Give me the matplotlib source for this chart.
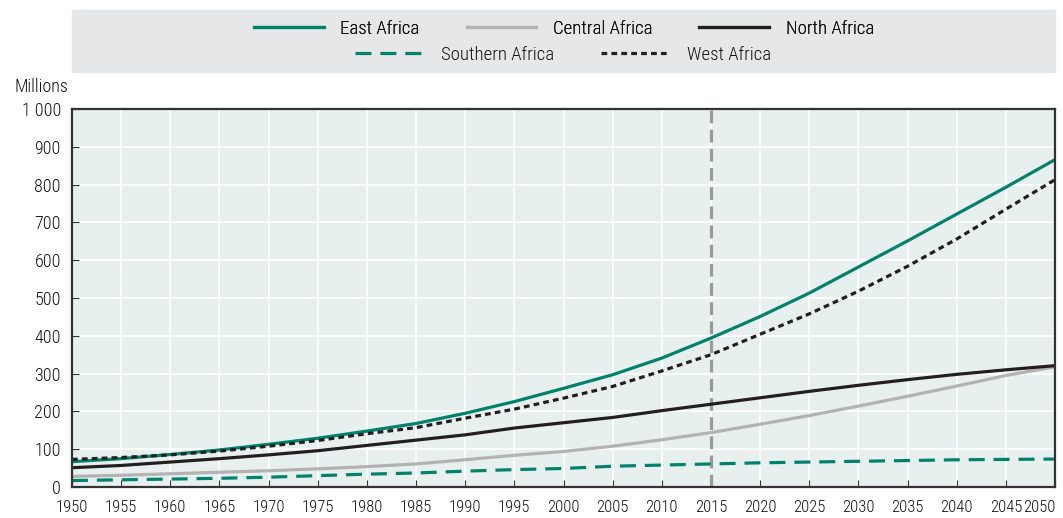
import matplotlib.pyplot as plt
from matplotlib.patches import Rectangle

plt.rcParams['font.family'] = ['Roboto Condensed', 'DejaVu Sans']
plt.rcParams['font.weight'] = 'light'

# años cada 5
anios = list(range(1950, 2051, 5))

# poblacion por region (millones)
east_africa = [67, 75, 86, 98, 113, 129, 148, 168, 195, 226, 261, 297, 341, 394, 451, 513, 582, 651, 722, 793, 866]
central_africa = [28, 31, 35, 39, 43, 48, 54, 61, 72, 84, 94, 108, 125, 144, 166, 189, 214, 240, 267, 295, 318]
north_africa = [51, 57, 66, 75, 85, 96, 110, 124, 138, 156, 170, 184, 202, 219, 236, 253, 269, 284, 298, 310, 321]
southern_africa = [17, 19, 21, 23, 26, 30, 34, 37, 42, 46, 49, 55, 58, 61, 64, 66, 68, 70, 72, 73, 74]
west_africa = [73, 78, 85, 95, 108, 123, 141, 157, 182, 206, 235, 266, 307, 350, 404, 458, 518, 584, 656, 735, 813]

verde = "#00836a"
gris = "#b3b3b3"
negro = "#231f20"

fig = plt.figure(figsize=(10.63, 5.18), dpi=100)
ax = fig.add_axes([72 / 1063, 31 / 518, 983 / 1063, 378 / 518])
ax.set_facecolor("#e8f0ef")

ax.plot(anios, east_africa, color=verde, lw=2.3, label="East Africa")
ax.plot(anios, central_africa, color=gris, lw=2.3, label="Central Africa")
ax.plot(anios, north_africa, color=negro, lw=2.3, label="North Africa")
ax.plot(anios, southern_africa, color=verde, lw=2.3, ls=(0, (5, 2.8)), label="Southern Africa")
ax.plot(anios, west_africa, color=negro, lw=2.3, ls=(0, (1.8, 1.3)), label="West Africa")

ax.axvline(2015, color="#999999", lw=2.3, ls=(0, (4, 2)), zorder=1)

ax.set_xlim(1950, 2050)
ax.set_ylim(0, 1000)
ax.set_xticks(anios)
ax.set_xticklabels([str(a) for a in anios])
ax.set_yticks(range(0, 1001, 100))
ax.set_yticklabels(["0", "100", "200", "300", "400", "500", "600", "700", "800", "900", "1 000"])
ax.grid(color="white", lw=1.2)
ax.set_axisbelow(True)
ax.tick_params(direction="in", length=5, color="#333333", labelsize=12, labelcolor="#111111")
ax.tick_params(axis="x", pad=9)
ax.tick_params(axis="y", pad=8, labelsize=13)
ax.get_xticklabels()[-1].set_ha("right")
for s in ax.spines.values():
    s.set_color("#333333")
    s.set_linewidth(1.6)

fig.text(14 / 1063, 1 - 87 / 518, "Millions", fontsize=13, color="#111111", va="center")

# caja de la leyenda
fig.patches.append(Rectangle((72 / 1063, 1 - 72 / 518), 983 / 1063, 62 / 518,
                             transform=fig.transFigure, color="#e6e7e8", zorder=0))

h = ax.get_lines()
fila1 = [h[0], h[1], h[2]]
fila2 = [h[3], h[4]]
kw = dict(frameon=False, fontsize=13.5, handlelength=3.7, handletextpad=0.9,
          columnspacing=2.5, borderaxespad=0, labelcolor="#111111")
leg1 = fig.legend(handles=fila1, ncol=3, loc="center", bbox_to_anchor=(564 / 1063, 1 - 29 / 518), **kw)
fig.add_artist(leg1)
fig.legend(handles=fila2, ncol=2, loc="center", bbox_to_anchor=(563 / 1063, 1 - 55 / 518), **kw)

plt.savefig("out.png", dpi=100)
plt.close()
